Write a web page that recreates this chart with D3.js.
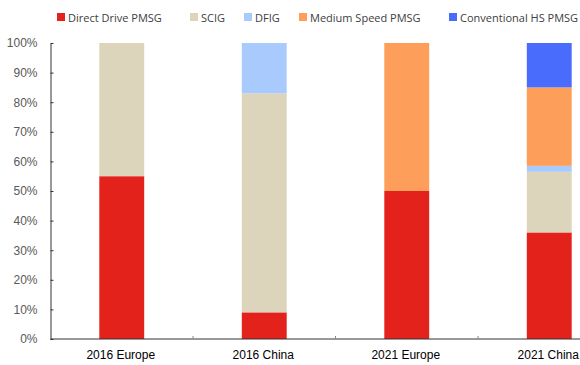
<!DOCTYPE html>
<html>
<head>
<meta charset="utf-8">
<script src="https://cdn.jsdelivr.net/npm/d3@7"></script>
<style>
  html, body { margin: 0; padding: 0; background: #fff; }
  svg { display: block; }
</style>
</head>
<body>
<svg id="chart" width="580" height="365"></svg>
<script>
// Generator technology share by market (percent of installations)
const categories = ["2016 Europe", "2016 China", "2021 Europe", "2021 China"];
const seriesNames = ["Direct Drive PMSG", "SCIG", "DFIG", "Medium Speed PMSG", "Conventional HS PMSG"];
const directDrive = [55, 9, 50, 36];
const scig = [45, 74, 0, 20.5];
const dfig = [0, 17, 0, 2];
const mediumSpeed = [0, 0, 50, 26.5];
const conventionalHS = [0, 0, 0, 15];
const yTicks = [0, 10, 20, 30, 40, 50, 60, 70, 80, 90, 100];
const colors = ["#e3221b", "#ddd4bc", "#a8cafd", "#fd9e5a", "#4a6cfd"];

const seriesValues = [directDrive, scig, dfig, mediumSpeed, conventionalHS];
const rows = categories.map((c, i) => {
  const r = { category: c };
  seriesNames.forEach((s, k) => { r[s] = seriesValues[k][i]; });
  return r;
});
const stacked = d3.stack().keys(seriesNames)(rows);

const svg = d3.select("#chart");
const plotLeft = 50.5, plotTop = 43, plotBottom = 339;
const bandW = 142.5;

const x = d3.scaleBand()
  .domain(categories)
  .range([plotLeft, plotLeft + bandW * categories.length])
  .paddingInner(0.685)
  .paddingOuter(0.3425);
const y = d3.scaleLinear().domain([0, 100]).range([plotBottom, plotTop]);
const color = d3.scaleOrdinal().domain(seriesNames).range(colors);

// Bars
svg.append("g")
  .selectAll("g")
  .data(stacked)
  .join("g")
  .attr("fill", d => color(d.key))
  .selectAll("rect")
  .data(d => d)
  .join("rect")
  .attr("x", d => x(d.data.category))
  .attr("y", d => y(d[1]))
  .attr("width", x.bandwidth())
  .attr("height", d => y(d[0]) - y(d[1]));

// Y axis
const yAxis = svg.append("g")
  .attr("transform", `translate(${plotLeft},0)`)
  .call(d3.axisLeft(y).tickValues(yTicks).tickFormat(d => d + "%").tickSize(-3).tickSizeOuter(0).tickPadding(13));
yAxis.select(".domain").attr("stroke", "#333");
yAxis.selectAll(".tick line").attr("stroke", "#333");
yAxis.selectAll("text")
  .attr("fill", "#595959")
  .style("font-family", "'Liberation Sans', Arial, sans-serif")
  .style("font-size", "12px");

// X axis with ticks between categories
const xAxisG = svg.append("g").attr("transform", `translate(0,${plotBottom})`);
xAxisG.append("line")
  .attr("x1", plotLeft).attr("x2", 580)
  .attr("stroke", "#333");
xAxisG.selectAll("line.sep")
  .data(categories.slice(1))
  .join("line")
  .attr("class", "sep")
  .attr("x1", d => x(d) - x.step() * x.paddingOuter())
  .attr("x2", d => x(d) - x.step() * x.paddingOuter())
  .attr("y1", 0).attr("y2", -3)
  .attr("stroke", "#888");
xAxisG.selectAll("text")
  .data(categories)
  .join("text")
  .attr("x", d => x(d) + x.bandwidth() / 2 - 1)
  .attr("y", 20)
  .attr("text-anchor", "middle")
  .attr("fill", "#000")
  .style("font-family", "'Liberation Sans', Arial, sans-serif")
  .style("font-size", "12px")
  .text(d => d);

// Legend
const legendX = [57, 190, 244, 299, 449];
const legend = svg.append("g")
  .selectAll("g")
  .data(seriesNames)
  .join("g")
  .attr("transform", (d, i) => `translate(${legendX[i]},13)`);
legend.append("rect")
  .attr("width", 8).attr("height", 8)
  .attr("fill", d => color(d));
legend.append("text")
  .attr("x", 11).attr("y", 8.5)
  .attr("fill", "#404040")
  .style("font-family", "'Open Sans', sans-serif")
  .style("font-size", "11px")
  .text(d => d);
</script>
</body>
</html>
